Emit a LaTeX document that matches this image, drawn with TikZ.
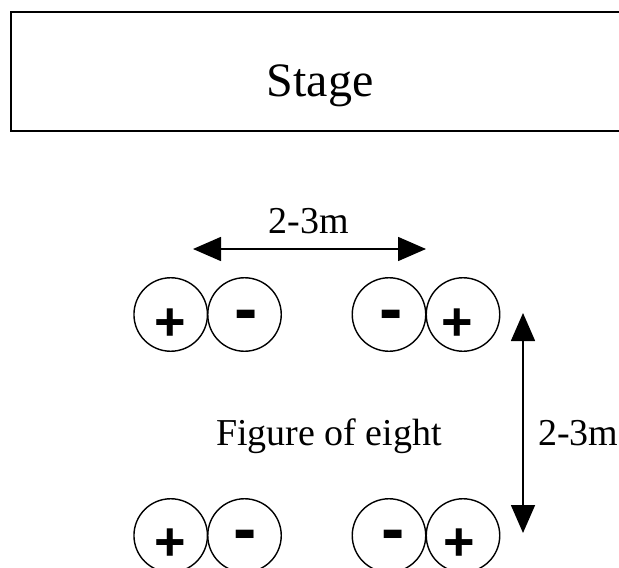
\documentclass[tikz,border=0pt]{standalone}
\usepackage{fontspec}
\setmainfont{Liberation Serif}
\newfontfamily\signfont{Liberation Sans}[BoldFont={Liberation Sans Bold}]
\usetikzlibrary{arrows.meta}

\tikzset{
  mic/.style={draw, circle, line width=1.4bp, minimum size=73.5bp, inner sep=0pt},
  plussign/.style={anchor=base, inner sep=0pt, font=\signfont\bfseries\fontsize{54bp}{54bp}\selectfont},
  minussign/.style={anchor=base, inner sep=0pt, font=\signfont\bfseries\fontsize{70bp}{70bp}\selectfont},
  dimarrow/.style={line width=1.6bp, {Triangle[length=28bp, width=24bp]}-{Triangle[length=28bp, width=24bp]}},
  label/.style={anchor=base, inner sep=0pt, font=\fontsize{38bp}{38bp}\selectfont},
}

\begin{document}
\begin{tikzpicture}[x=1bp, y=-1bp]
  \clip (0,0) rectangle (619,568);

  % stage
  \draw[line width=1.6bp] (11,12) rectangle (660,131);
  \node[anchor=base, inner sep=0pt, font=\fontsize{48bp}{48bp}\selectfont] (stage) at (320,97) {Stage};

  % microphone pairs, top row
  \node[mic] (m1) at (170.7,314.5) {};
  \node[mic] (m2) at (244.5,314.5) {};
  \node[mic] (m3) at (389,314.5) {};
  \node[mic] (m4) at (463,314.5) {};
  % bottom row
  \node[mic] (m5) at (170.7,535.5) {};
  \node[mic] (m6) at (244.5,535.5) {};
  \node[mic] (m7) at (389,535.5) {};
  \node[mic] (m8) at (463,535.5) {};

  % polarity signs
  \node[plussign]  (p1) at (170,340) {+};
  \node[minussign] (n2) at (246,332.5) {-};
  \node[minussign] (n3) at (391,332.5) {-};
  \node[plussign]  (p4) at (457,340) {+};
  \node[plussign]  (p5) at (170,560) {+};
  \node[minussign] (n6) at (245,552.5) {-};
  \node[minussign] (n7) at (393,552.5) {-};
  \node[plussign]  (p8) at (459,560) {+};

  % spacing dimensions
  \coordinate (hl) at (193,249);
  \coordinate (hr) at (426,249);
  \draw[dimarrow] (hl) -- (hr);
  \node[label] (hlabel) at (309,233) {2-3m};

  \coordinate (vt) at (523,313);
  \coordinate (vb) at (523,533);
  \draw[dimarrow] (vt) -- (vb);
  \node[label, anchor=base west] (vlabel) at (538,445) {2-3m};

  \node[label] (pattern) at (329,445) {Figure of eight};
\end{tikzpicture}
\end{document}
